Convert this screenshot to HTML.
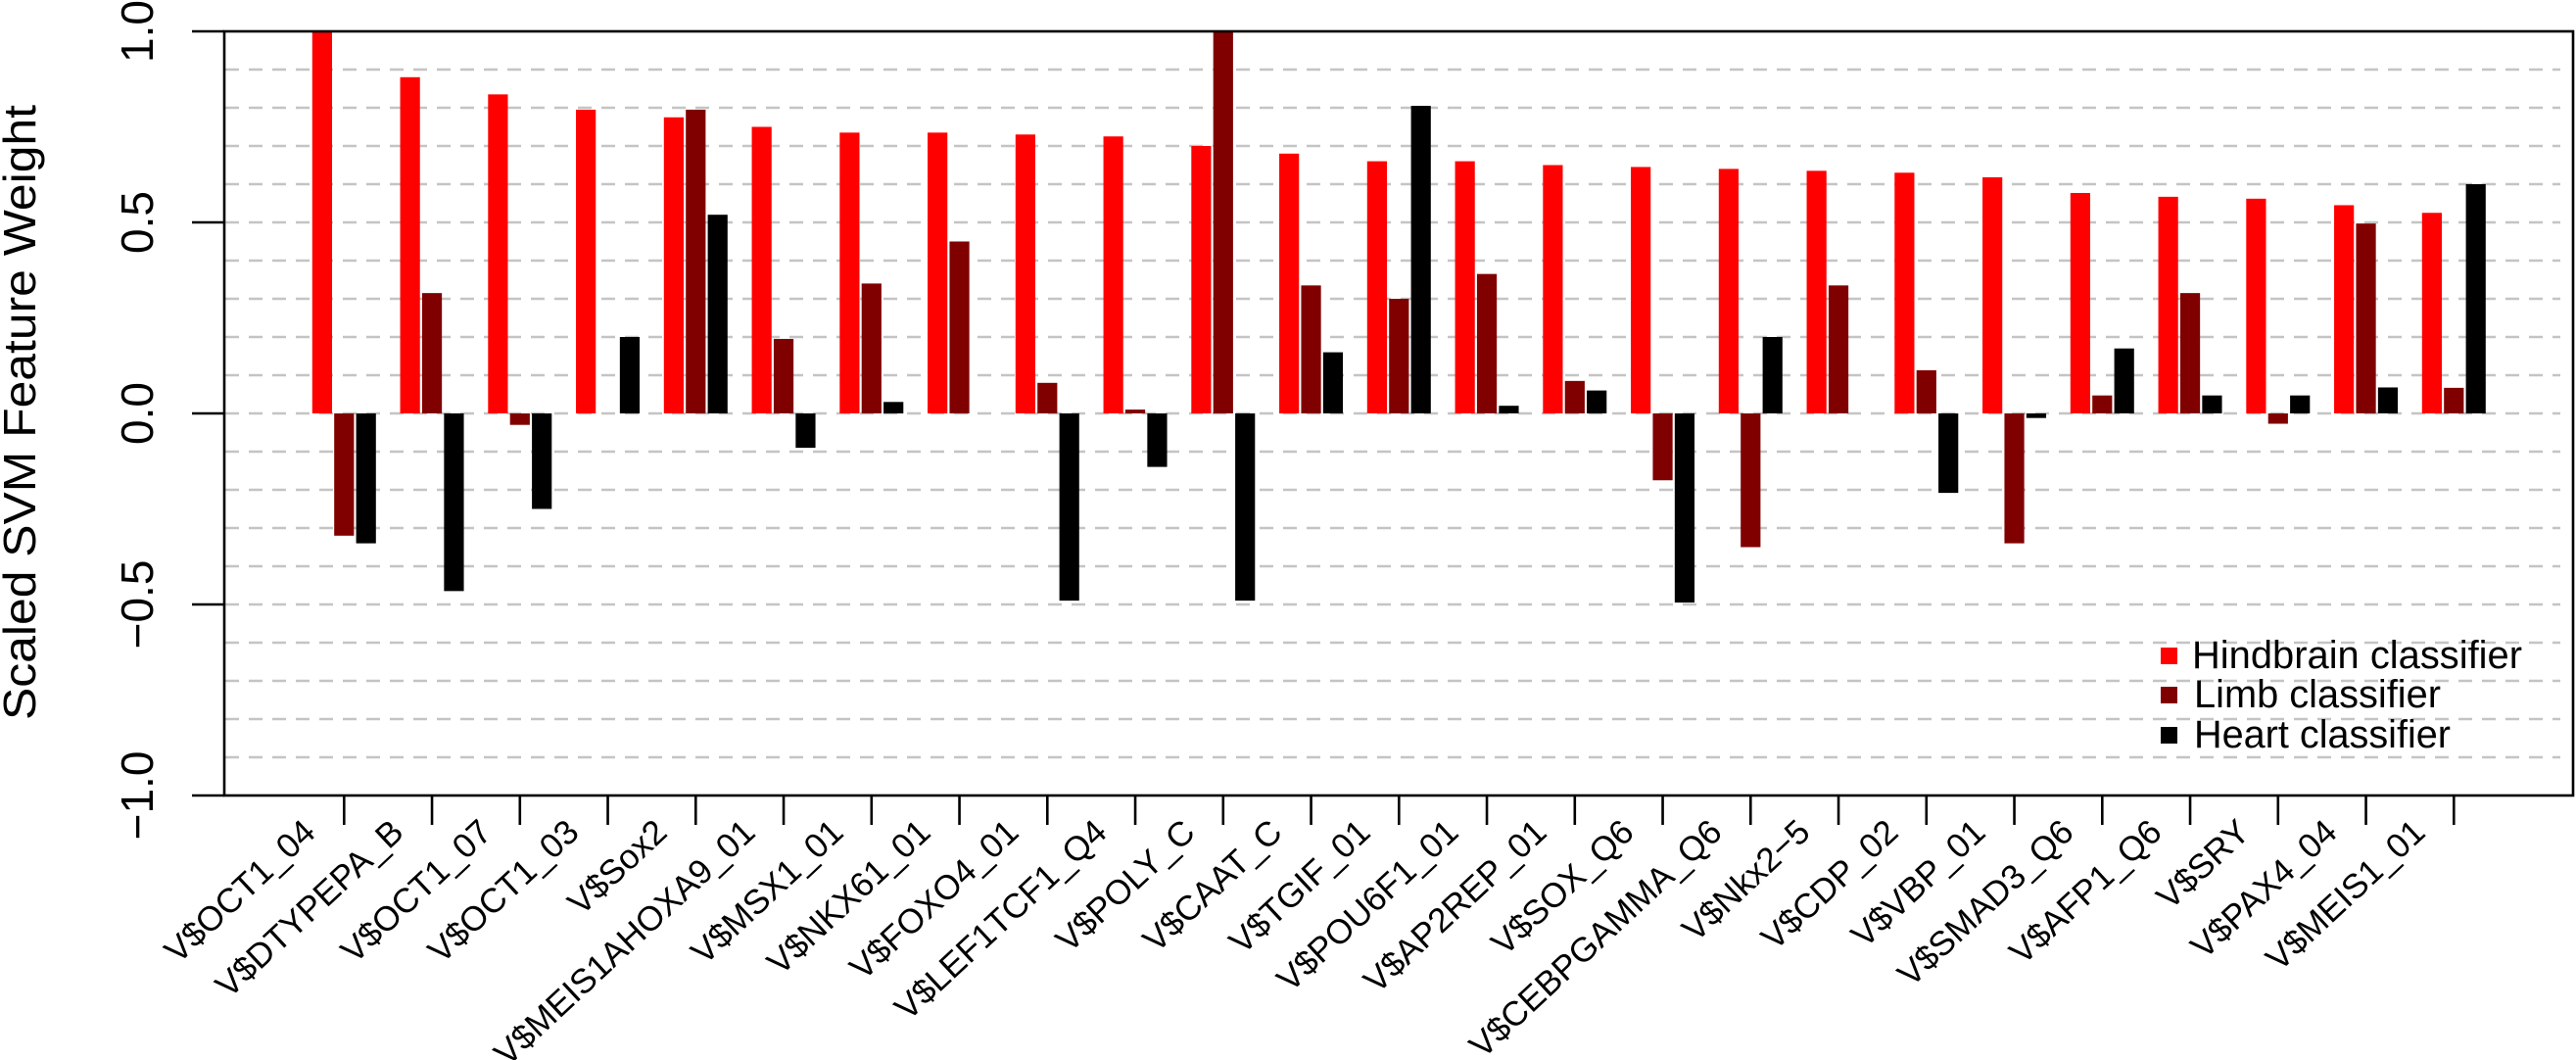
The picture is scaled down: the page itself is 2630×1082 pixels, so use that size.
<!DOCTYPE html>
<html><head><meta charset="utf-8"><style>
html,body{margin:0;padding:0;background:#fff;}
svg{display:block;}
text{font-family:"Liberation Sans",Arial,sans-serif;fill:#000;}
</style></head><body>
<svg width="2630" height="1082" viewBox="0 0 2630 1082" xmlns="http://www.w3.org/2000/svg">
<g stroke="#c4c4c4" stroke-width="2.4" stroke-dasharray="14,10">
<line x1="230" x2="2614" y1="71" y2="71"/>
<line x1="230" x2="2614" y1="110" y2="110"/>
<line x1="230" x2="2614" y1="149" y2="149"/>
<line x1="230" x2="2614" y1="188" y2="188"/>
<line x1="230" x2="2614" y1="227" y2="227"/>
<line x1="230" x2="2614" y1="266" y2="266"/>
<line x1="230" x2="2614" y1="305" y2="305"/>
<line x1="230" x2="2614" y1="344" y2="344"/>
<line x1="230" x2="2614" y1="383" y2="383"/>
<line x1="230" x2="2614" y1="422" y2="422"/>
<line x1="230" x2="2614" y1="461" y2="461"/>
<line x1="230" x2="2614" y1="500" y2="500"/>
<line x1="230" x2="2614" y1="539" y2="539"/>
<line x1="230" x2="2614" y1="578" y2="578"/>
<line x1="230" x2="2614" y1="617" y2="617"/>
<line x1="230" x2="2614" y1="656" y2="656"/>
<line x1="230" x2="2614" y1="695" y2="695"/>
<line x1="230" x2="2614" y1="734" y2="734"/>
<line x1="230" x2="2614" y1="773" y2="773"/>
</g>
<g>
<g transform="translate(351.3,422) scale(1,-390)"><rect x="-32.5" y="0" width="20.2" height="1.0" fill="#f00"/><rect x="-10.1" y="-0.32" width="20.2" height="0.32" fill="#800000"/><rect x="12.3" y="-0.34" width="20.2" height="0.34" fill="#000"/></g>
<g transform="translate(441.05,422) scale(1,-390)"><rect x="-32.5" y="0" width="20.2" height="0.88" fill="#f00"/><rect x="-10.1" y="0" width="20.2" height="0.315" fill="#800000"/><rect x="12.3" y="-0.465" width="20.2" height="0.465" fill="#000"/></g>
<g transform="translate(530.8,422) scale(1,-390)"><rect x="-32.5" y="0" width="20.2" height="0.835" fill="#f00"/><rect x="-10.1" y="-0.03" width="20.2" height="0.03" fill="#800000"/><rect x="12.3" y="-0.25" width="20.2" height="0.25" fill="#000"/></g>
<g transform="translate(620.55,422) scale(1,-390)"><rect x="-32.5" y="0" width="20.2" height="0.795" fill="#f00"/><rect x="12.3" y="0" width="20.2" height="0.2" fill="#000"/></g>
<g transform="translate(710.3,422) scale(1,-390)"><rect x="-32.5" y="0" width="20.2" height="0.775" fill="#f00"/><rect x="-10.1" y="0" width="20.2" height="0.795" fill="#800000"/><rect x="12.3" y="0" width="20.2" height="0.52" fill="#000"/></g>
<g transform="translate(800.05,422) scale(1,-390)"><rect x="-32.5" y="0" width="20.2" height="0.75" fill="#f00"/><rect x="-10.1" y="0" width="20.2" height="0.195" fill="#800000"/><rect x="12.3" y="-0.09" width="20.2" height="0.09" fill="#000"/></g>
<g transform="translate(889.8,422) scale(1,-390)"><rect x="-32.5" y="0" width="20.2" height="0.735" fill="#f00"/><rect x="-10.1" y="0" width="20.2" height="0.34" fill="#800000"/><rect x="12.3" y="0" width="20.2" height="0.03" fill="#000"/></g>
<g transform="translate(979.55,422) scale(1,-390)"><rect x="-32.5" y="0" width="20.2" height="0.735" fill="#f00"/><rect x="-10.1" y="0" width="20.2" height="0.45" fill="#800000"/></g>
<g transform="translate(1069.3,422) scale(1,-390)"><rect x="-32.5" y="0" width="20.2" height="0.73" fill="#f00"/><rect x="-10.1" y="0" width="20.2" height="0.08" fill="#800000"/><rect x="12.3" y="-0.49" width="20.2" height="0.49" fill="#000"/></g>
<g transform="translate(1159.05,422) scale(1,-390)"><rect x="-32.5" y="0" width="20.2" height="0.725" fill="#f00"/><rect x="-10.1" y="0" width="20.2" height="0.01" fill="#800000"/><rect x="12.3" y="-0.14" width="20.2" height="0.14" fill="#000"/></g>
<g transform="translate(1248.8,422) scale(1,-390)"><rect x="-32.5" y="0" width="20.2" height="0.70" fill="#f00"/><rect x="-10.1" y="0" width="20.2" height="1.0" fill="#800000"/><rect x="12.3" y="-0.49" width="20.2" height="0.49" fill="#000"/></g>
<g transform="translate(1338.55,422) scale(1,-390)"><rect x="-32.5" y="0" width="20.2" height="0.68" fill="#f00"/><rect x="-10.1" y="0" width="20.2" height="0.335" fill="#800000"/><rect x="12.3" y="0" width="20.2" height="0.16" fill="#000"/></g>
<g transform="translate(1428.3,422) scale(1,-390)"><rect x="-32.5" y="0" width="20.2" height="0.66" fill="#f00"/><rect x="-10.1" y="0" width="20.2" height="0.30" fill="#800000"/><rect x="12.3" y="0" width="20.2" height="0.805" fill="#000"/></g>
<g transform="translate(1518.05,422) scale(1,-390)"><rect x="-32.5" y="0" width="20.2" height="0.66" fill="#f00"/><rect x="-10.1" y="0" width="20.2" height="0.365" fill="#800000"/><rect x="12.3" y="0" width="20.2" height="0.02" fill="#000"/></g>
<g transform="translate(1607.8,422) scale(1,-390)"><rect x="-32.5" y="0" width="20.2" height="0.65" fill="#f00"/><rect x="-10.1" y="0" width="20.2" height="0.085" fill="#800000"/><rect x="12.3" y="0" width="20.2" height="0.06" fill="#000"/></g>
<g transform="translate(1697.55,422) scale(1,-390)"><rect x="-32.5" y="0" width="20.2" height="0.645" fill="#f00"/><rect x="-10.1" y="-0.175" width="20.2" height="0.175" fill="#800000"/><rect x="12.3" y="-0.495" width="20.2" height="0.495" fill="#000"/></g>
<g transform="translate(1787.3,422) scale(1,-390)"><rect x="-32.5" y="0" width="20.2" height="0.64" fill="#f00"/><rect x="-10.1" y="-0.35" width="20.2" height="0.35" fill="#800000"/><rect x="12.3" y="0" width="20.2" height="0.20" fill="#000"/></g>
<g transform="translate(1877.05,422) scale(1,-390)"><rect x="-32.5" y="0" width="20.2" height="0.635" fill="#f00"/><rect x="-10.1" y="0" width="20.2" height="0.335" fill="#800000"/></g>
<g transform="translate(1966.8,422) scale(1,-390)"><rect x="-32.5" y="0" width="20.2" height="0.63" fill="#f00"/><rect x="-10.1" y="0" width="20.2" height="0.113" fill="#800000"/><rect x="12.3" y="-0.208" width="20.2" height="0.208" fill="#000"/></g>
<g transform="translate(2056.55,422) scale(1,-390)"><rect x="-32.5" y="0" width="20.2" height="0.618" fill="#f00"/><rect x="-10.1" y="-0.34" width="20.2" height="0.34" fill="#800000"/><rect x="12.3" y="-0.012" width="20.2" height="0.012" fill="#000"/></g>
<g transform="translate(2146.3,422) scale(1,-390)"><rect x="-32.5" y="0" width="20.2" height="0.577" fill="#f00"/><rect x="-10.1" y="0" width="20.2" height="0.047" fill="#800000"/><rect x="12.3" y="0" width="20.2" height="0.17" fill="#000"/></g>
<g transform="translate(2236.05,422) scale(1,-390)"><rect x="-32.5" y="0" width="20.2" height="0.567" fill="#f00"/><rect x="-10.1" y="0" width="20.2" height="0.315" fill="#800000"/><rect x="12.3" y="0" width="20.2" height="0.047" fill="#000"/></g>
<g transform="translate(2325.8,422) scale(1,-390)"><rect x="-32.5" y="0" width="20.2" height="0.562" fill="#f00"/><rect x="-10.1" y="-0.027" width="20.2" height="0.027" fill="#800000"/><rect x="12.3" y="0" width="20.2" height="0.047" fill="#000"/></g>
<g transform="translate(2415.55,422) scale(1,-390)"><rect x="-32.5" y="0" width="20.2" height="0.545" fill="#f00"/><rect x="-10.1" y="0" width="20.2" height="0.497" fill="#800000"/><rect x="12.3" y="0" width="20.2" height="0.068" fill="#000"/></g>
<g transform="translate(2505.3,422) scale(1,-390)"><rect x="-32.5" y="0" width="20.2" height="0.525" fill="#f00"/><rect x="-10.1" y="0" width="20.2" height="0.067" fill="#800000"/><rect x="12.3" y="0" width="20.2" height="0.60" fill="#000"/></g>
</g>
<rect x="229" y="32" width="2398" height="780" fill="none" stroke="#000" stroke-width="2.6"/>
<g stroke="#000" stroke-width="2.6">
<line x1="196" x2="229" y1="32" y2="32"/>
<line x1="196" x2="229" y1="227" y2="227"/>
<line x1="196" x2="229" y1="422" y2="422"/>
<line x1="196" x2="229" y1="617" y2="617"/>
<line x1="196" x2="229" y1="812" y2="812"/>
</g>
<g font-size="46" text-anchor="middle">
<text transform="translate(156,32) rotate(-90)">1.0</text>
<text transform="translate(156,227) rotate(-90)">0.5</text>
<text transform="translate(156,422) rotate(-90)">0.0</text>
<text transform="translate(156,617) rotate(-90)">−0.5</text>
<text transform="translate(156,812) rotate(-90)">−1.0</text>
</g>
<text transform="translate(36,421) rotate(-90)" font-size="46" text-anchor="middle" textLength="628" lengthAdjust="spacingAndGlyphs">Scaled SVM Feature Weight</text>
<g stroke="#000" stroke-width="2.6">
<line x1="351.3" x2="351.3" y1="812" y2="842"/><line x1="441.05" x2="441.05" y1="812" y2="842"/><line x1="530.8" x2="530.8" y1="812" y2="842"/><line x1="620.55" x2="620.55" y1="812" y2="842"/><line x1="710.3" x2="710.3" y1="812" y2="842"/><line x1="800.05" x2="800.05" y1="812" y2="842"/><line x1="889.8" x2="889.8" y1="812" y2="842"/><line x1="979.55" x2="979.55" y1="812" y2="842"/><line x1="1069.3" x2="1069.3" y1="812" y2="842"/><line x1="1159.05" x2="1159.05" y1="812" y2="842"/><line x1="1248.8" x2="1248.8" y1="812" y2="842"/><line x1="1338.55" x2="1338.55" y1="812" y2="842"/><line x1="1428.3" x2="1428.3" y1="812" y2="842"/><line x1="1518.05" x2="1518.05" y1="812" y2="842"/><line x1="1607.8" x2="1607.8" y1="812" y2="842"/><line x1="1697.55" x2="1697.55" y1="812" y2="842"/><line x1="1787.3" x2="1787.3" y1="812" y2="842"/><line x1="1877.05" x2="1877.05" y1="812" y2="842"/><line x1="1966.8" x2="1966.8" y1="812" y2="842"/><line x1="2056.55" x2="2056.55" y1="812" y2="842"/><line x1="2146.3" x2="2146.3" y1="812" y2="842"/><line x1="2236.05" x2="2236.05" y1="812" y2="842"/><line x1="2325.8" x2="2325.8" y1="812" y2="842"/><line x1="2415.55" x2="2415.55" y1="812" y2="842"/><line x1="2505.3" x2="2505.3" y1="812" y2="842"/>
</g>
<g font-size="35" text-anchor="end">
<text transform="translate(324,852) rotate(-43)">V$OCT1_04</text>
<text transform="translate(414,852) rotate(-43)">V$DTYPEPA_B</text>
<text transform="translate(504,852) rotate(-43)">V$OCT1_07</text>
<text transform="translate(593,852) rotate(-43)">V$OCT1_03</text>
<text transform="translate(683,852) rotate(-43)">V$Sox2</text>
<text transform="translate(773,852) rotate(-43)">V$MEIS1AHOXA9_01</text>
<text transform="translate(863,852) rotate(-43)">V$MSX1_01</text>
<text transform="translate(952,852) rotate(-43)">V$NKX61_01</text>
<text transform="translate(1042,852) rotate(-43)">V$FOXO4_01</text>
<text transform="translate(1132,852) rotate(-43)">V$LEF1TCF1_Q4</text>
<text transform="translate(1222,852) rotate(-43)">V$POLY_C</text>
<text transform="translate(1311,852) rotate(-43)">V$CAAT_C</text>
<text transform="translate(1401,852) rotate(-43)">V$TGIF_01</text>
<text transform="translate(1491,852) rotate(-43)">V$POU6F1_01</text>
<text transform="translate(1581,852) rotate(-43)">V$AP2REP_01</text>
<text transform="translate(1670,852) rotate(-43)">V$SOX_Q6</text>
<text transform="translate(1760,852) rotate(-43)">V$CEBPGAMMA_Q6</text>
<text transform="translate(1850,852) rotate(-43)">V$Nkx2−5</text>
<text transform="translate(1940,852) rotate(-43)">V$CDP_02</text>
<text transform="translate(2029,852) rotate(-43)">V$VBP_01</text>
<text transform="translate(2119,852) rotate(-43)">V$SMAD3_Q6</text>
<text transform="translate(2209,852) rotate(-43)">V$AFP1_Q6</text>
<text transform="translate(2299,852) rotate(-43)">V$SRY</text>
<text transform="translate(2388,852) rotate(-43)">V$PAX4_04</text>
<text transform="translate(2478,852) rotate(-43)">V$MEIS1_01</text>
</g>
<rect x="2206" y="661" width="17" height="17" fill="#f00"/>
<rect x="2206" y="701" width="17" height="17" fill="#800000"/>
<rect x="2206" y="742" width="17" height="17" fill="#000"/>
<g font-size="40">
<text x="2238" y="682" textLength="337" lengthAdjust="spacingAndGlyphs">Hindbrain classifier</text>
<text x="2240" y="722" textLength="252" lengthAdjust="spacingAndGlyphs">Limb classifier</text>
<text x="2240" y="763" textLength="262" lengthAdjust="spacingAndGlyphs">Heart classifier</text>
</g>
</svg>
</body></html>
